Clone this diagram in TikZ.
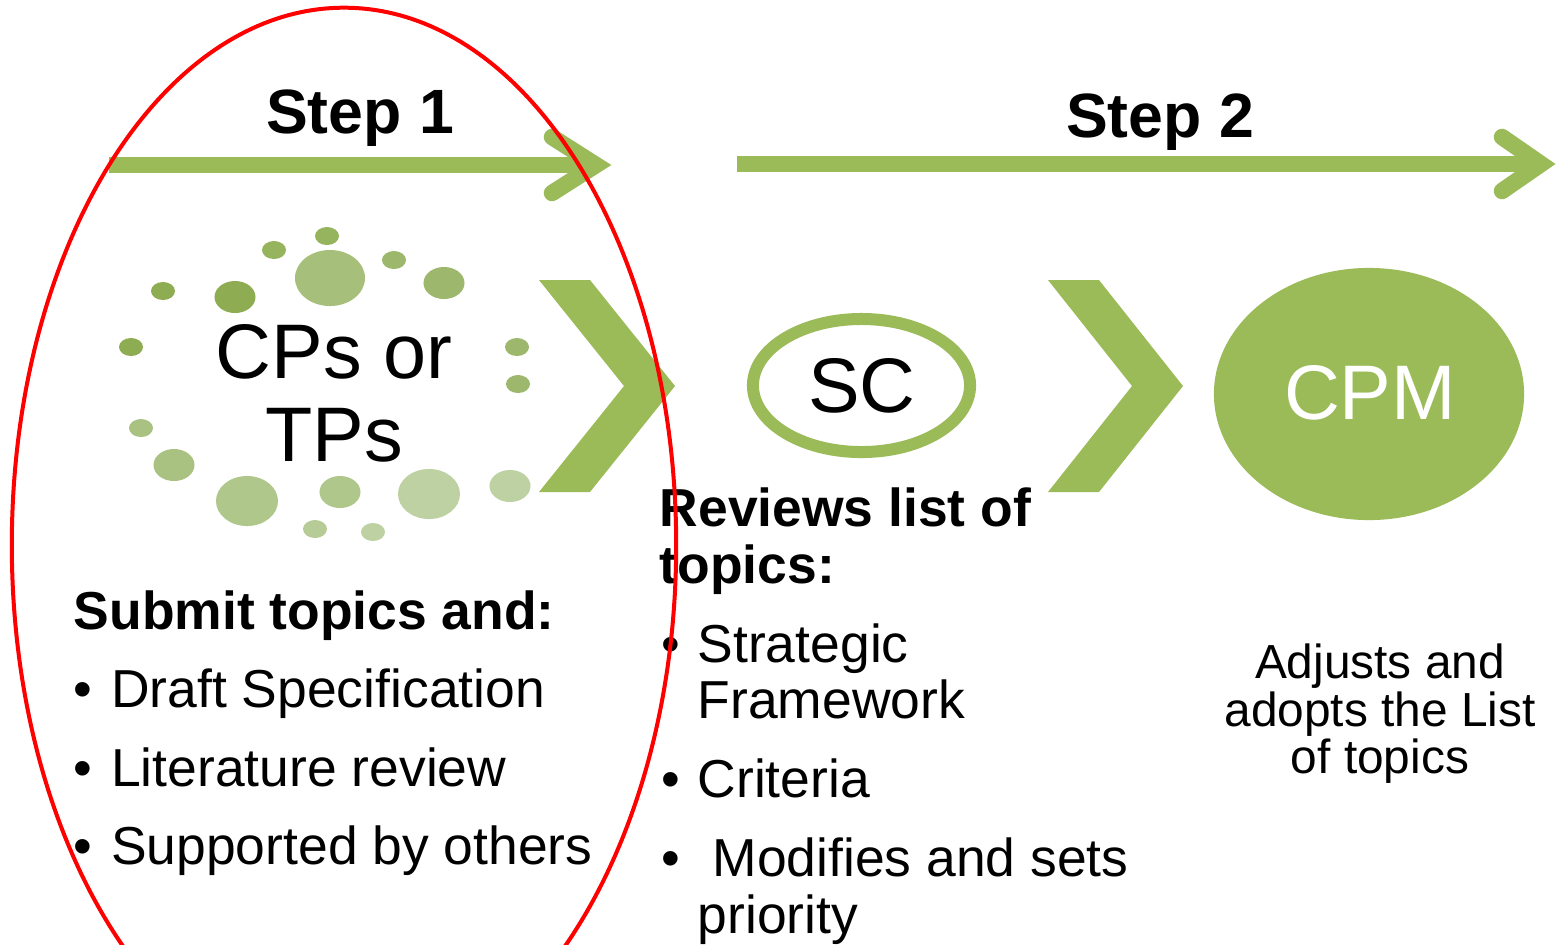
\documentclass[tikz,border=0pt]{standalone}
\usepackage{fontspec}
\setmainfont{Liberation Sans}
\usetikzlibrary{shapes.geometric}
\definecolor{olive}{HTML}{9BBB59}
\definecolor{dA}{HTML}{8EAC52}
\definecolor{dB}{HTML}{96B35E}
\definecolor{dC}{HTML}{A6C07B}
\definecolor{dD}{HTML}{9DB86C}
\definecolor{dE}{HTML}{A9C282}
\definecolor{dF}{HTML}{AFC78B}
\definecolor{dG}{HTML}{B6CB96}
\definecolor{dH}{HTML}{BDD1A2}
\tikzset{
  shaft/.style={draw=olive, line width=0.165cm},
  barb/.style={draw=olive, line width=0.165cm, line cap=round, line join=miter},
  chevron/.style={fill=olive},
  big/.style={font=\fontsize{22}{26}\selectfont, inner sep=0pt},
  steplabel/.style={font=\bfseries\fontsize{17.8}{21}\selectfont, inner sep=0pt, anchor=base},
  body/.style={font=\fontsize{15.2}{18}\selectfont, inner sep=0pt, anchor=base west},
  bodyb/.style={font=\bfseries\fontsize{15.2}{18}\selectfont, inner sep=0pt, anchor=base west},
  small/.style={font=\fontsize{13.6}{16}\selectfont, inner sep=0pt, anchor=base},
}
\newcommand{\bul}[1]{\makebox[#1][l]{\textbullet}}
\begin{document}
\begin{tikzpicture}[x=0.01cm, y=-0.01cm]
\clip (0,0) rectangle (1557,944);
\fill[white] (0,0) rectangle (1557,944);

% Step arrows
\coordinate (s1a) at (109,165);
\coordinate (s1b) at (596,165);
\coordinate (s1u) at (552,137);
\coordinate (s1d) at (552,193);
\draw[shaft] (s1a) -- (s1b);
\draw[barb] (s1u) -- (s1b) -- (s1d);
\coordinate (s2a) at (737,164);
\coordinate (s2b) at (1541,164);
\coordinate (s2u) at (1502,137);
\coordinate (s2d) at (1502,191);
\draw[shaft] (s2a) -- (s2b);
\draw[barb] (s2u) -- (s2b) -- (s2d);
\node[steplabel] (step1) at (360,133) {Step 1};
\node[steplabel] (step2) at (1160,137) {Step 2};

% dots
\fill[dB] (327,236) ellipse [x radius=0.12cm, y radius=0.09cm];
\fill[dB] (274,250) ellipse [x radius=0.12cm, y radius=0.09cm];
\fill[dC] (330,278) ellipse [x radius=0.35cm, y radius=0.28cm];
\fill[dD] (394,260) ellipse [x radius=0.12cm, y radius=0.09cm];
\fill[dD] (444,283) ellipse [x radius=0.205cm, y radius=0.16cm];
\fill[dA] (163,291) ellipse [x radius=0.12cm, y radius=0.09cm];
\fill[dA] (235,297) ellipse [x radius=0.205cm, y radius=0.16cm];
\fill[dA] (131,347) ellipse [x radius=0.12cm, y radius=0.09cm];
\fill[dD] (517,347) ellipse [x radius=0.12cm, y radius=0.09cm];
\fill[dD] (518,384) ellipse [x radius=0.12cm, y radius=0.09cm];
\fill[dE] (141,428) ellipse [x radius=0.12cm, y radius=0.09cm];
\fill[dE] (174,465) ellipse [x radius=0.205cm, y radius=0.16cm];
\fill[dF] (247,501) ellipse [x radius=0.31cm, y radius=0.25cm];
\fill[dF] (340,492) ellipse [x radius=0.205cm, y radius=0.16cm];
\fill[dH] (429,494) ellipse [x radius=0.31cm, y radius=0.25cm];
\fill[dH] (510,486) ellipse [x radius=0.205cm, y radius=0.16cm];
\fill[dG] (315,529) ellipse [x radius=0.12cm, y radius=0.09cm];
\fill[dH] (373,532) ellipse [x radius=0.12cm, y radius=0.09cm];
\node[big, anchor=base] (cps1) at (334,378) {CPs or};
\node[big, anchor=base] (cps2) at (334,461) {TPs};

% chevrons
\fill[chevron] (539,280) -- (590,280) -- (675,386) -- (590,492) -- (539,492) -- (624,386) -- cycle;
\fill[chevron] (1048,280) -- (1099,280) -- (1183,386) -- (1099,492) -- (1048,492) -- (1132,386) -- cycle;

% SC and CPM
\node[ellipse, draw=olive, line width=0.12cm, minimum width=2.17cm, minimum height=1.33cm, inner sep=0pt] (sc) at (861.5,385.5) {};
\node[big, anchor=base] (sctext) at (862,412) {SC};
\node[ellipse, fill=olive, minimum width=3.10cm, minimum height=2.52cm, inner sep=0pt] (cpm) at (1369,394) {};
\node[big, anchor=base, text=white] (cpmtext) at (1370,419) {CPM};

% Left text
\node[bodyb] (submit) at (73,629) {Submit topics and:};
\node[body] (b1) at (73,707) {\bul{0.375cm}Draft Specification};
\node[body] (b2) at (73,786) {\bul{0.375cm}Literature review};
\node[body] (b3) at (73,864) {\bul{0.375cm}Supported by others};

% Middle text
\node[bodyb] (rev1) at (659,526) {Reviews list of};
\node[bodyb] (rev2) at (659,583) {topics:};
\node[body] (m1) at (661,662) {\bul{0.36cm}Strategic};
\node[body] (m1b) at (697,718) {Framework};
\node[body] (m2) at (661,797) {\bul{0.36cm}Criteria};
\node[body] (m3) at (661,876) {\bul{0.36cm}\ Modifies and sets};
\node[body] (m3b) at (697,933) {priority};

% Right text
\node[small] (r1) at (1380,678) {Adjusts and};
\node[small] (r2) at (1380,726) {adopts the List};
\node[small] (r3) at (1380,773) {of topics};

% red ellipse
\node[ellipse, draw=red, line width=0.04cm, minimum width=6.64cm, minimum height=10.74cm, inner sep=0pt] (focus) at (344,545) {};
\end{tikzpicture}
\end{document}
